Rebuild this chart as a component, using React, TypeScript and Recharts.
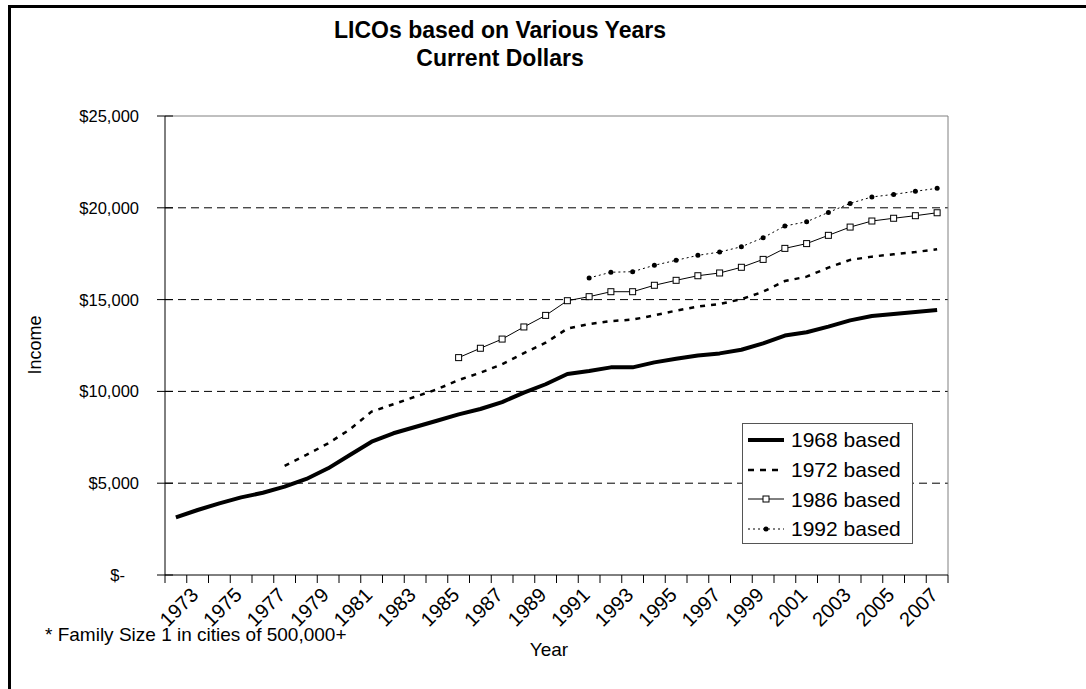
import React from "react";
import {
  LineChart,
  Line,
  XAxis,
  YAxis,
  CartesianGrid,
  ReferenceLine,
  Legend,
} from "recharts";

const FONT = '"Liberation Sans", Arial, Helvetica, sans-serif';

const YEARS = [
  1973, 1974, 1975, 1976, 1977, 1978, 1979, 1980, 1981, 1982, 1983, 1984,
  1985, 1986, 1987, 1988, 1989, 1990, 1991, 1992, 1993, 1994, 1995, 1996,
  1997, 1998, 1999, 2000, 2001, 2002, 2003, 2004, 2005, 2006, 2007, 2008,
];

const LICO_1968 = [
  3140, 3540, 3900, 4230, 4480, 4810, 5230, 5810, 6540, 7260, 7720, 8060,
  8400, 8750, 9040, 9420, 9930, 10390, 10950, 11110, 11310, 11310, 11580, 11780,
  11960, 12070, 12270, 12620, 13040, 13220, 13530, 13870, 14110, 14220, 14320, 14430,
];

const LICO_1972 = [
  null, null, null, null, null, 5950, 6540, 7170, 7930, 8900, 9300, 9710,
  10110, 10620, 11020, 11480, 12080, 12650, 13420, 13670, 13830, 13910, 14140, 14400,
  14620, 14760, 15020, 15430, 16010, 16250, 16740, 17160, 17340, 17470, 17590, 17740,
];

const LICO_1986 = [
  null, null, null, null, null, null, null, null, null, null, null, null,
  null, 11840, 12350, 12850, 13510, 14140, 14940, 15160, 15430, 15430, 15780, 16050,
  16300, 16450, 16760, 17190, 17790, 18050, 18500, 18950, 19280, 19430, 19570, 19730,
];

const LICO_1992 = [
  null, null, null, null, null, null, null, null, null, null, null, null,
  null, null, null, null, null, null, null, 16180, 16490, 16520, 16870, 17140,
  17410, 17590, 17880, 18370, 19010, 19240, 19750, 20240, 20590, 20730, 20900, 21060,
];

const YEAR_LABELS = [
  1973, 1975, 1977, 1979, 1981, 1983, 1985, 1987, 1989, 1991, 1993, 1995,
  1997, 1999, 2001, 2003, 2005, 2007,
];
const Y_TICKS = [0, 5000, 10000, 15000, 20000, 25000];
const GRID_VALUES = [5000, 10000, 15000, 20000];

const data = YEARS.map((year, i) => ({
  year,
  b1968: LICO_1968[i],
  b1972: LICO_1972[i],
  b1986: LICO_1986[i],
  b1992: LICO_1992[i],
}));

// tick marks sit between categories, labels on the category centres
const xTicks = [
  ...YEARS.map((y) => y - 0.5),
  YEARS[YEARS.length - 1] + 0.5,
  ...YEAR_LABELS,
];

const fmtMoney = (v: number) => (v === 0 ? "$-" : "$" + v.toLocaleString("en-US"));

function YearTick({ x, y, payload }: any) {
  const v = payload.value;
  if (!Number.isInteger(v)) {
    return <line x1={x} x2={x} y1={y} y2={y + 8} stroke="#000" />;
  }
  const cx = x + 3;
  const cy = y + 32;
  return (
    <text
      x={cx}
      y={cy}
      dy="0.35em"
      transform={`rotate(-45, ${cx}, ${cy})`}
      textAnchor="middle"
      fontSize={20}
      fontFamily={FONT}
      fill="#000"
    >
      {v}
    </text>
  );
}

function IncomeTick({ x, y, payload }: any) {
  const v = payload.value;
  return (
    <g>
      <line x1={x - 8} x2={x + 8} y1={y} y2={y} stroke="#000" />
      <text
        x={v === 0 ? x - 40 : x - 26}
        y={y + 6}
        textAnchor="end"
        fontSize={16.5}
        fontFamily={FONT}
        fill="#000"
      >
        {fmtMoney(v)}
      </text>
    </g>
  );
}

function SquareDot(props: any) {
  const { cx, cy, index, value } = props;
  if (value == null || cy == null) return <g key={index} />;
  return (
    <rect key={index} x={cx - 3} y={cy - 3} width={6} height={6} fill="#fff" stroke="#000" strokeWidth={1} />
  );
}

function RoundDot(props: any) {
  const { cx, cy, index, value } = props;
  if (value == null || cy == null) return <g key={index} />;
  return <circle key={index} cx={cx} cy={cy} r={2.5} fill="#000" />;
}

function LegendBox() {
  const row = (label: string, swatch: React.ReactNode) => (
    <div style={{ display: "flex", alignItems: "center", height: 29.7 }}>
      <svg width={42} height={12} style={{ marginLeft: 5 }}>
        {swatch}
      </svg>
      <span style={{ marginLeft: 1, fontSize: 21, lineHeight: "21px" }}>{label}</span>
    </div>
  );
  return (
    <div
      style={{
        width: 171,
        height: 121,
        boxSizing: "border-box",
        border: "1px solid #555",
        background: "#fff",
        fontFamily: FONT,
        color: "#000",
        paddingTop: 1,
      }}
    >
      {row("1968 based", <line x1={0} x2={36} y1={6} y2={6} stroke="#000" strokeWidth={4} />)}
      {row("1972 based", <line x1={0} x2={36} y1={6} y2={6} stroke="#000" strokeWidth={2.5} strokeDasharray="6 6" />)}
      {row(
        "1986 based",
        <g>
          <line x1={0} x2={36} y1={6} y2={6} stroke="#000" strokeWidth={1} />
          <rect x={15} y={3} width={6} height={6} fill="#fff" stroke="#000" />
        </g>
      )}
      {row(
        "1992 based",
        <g>
          <line x1={0} x2={36} y1={6} y2={6} stroke="#000" strokeWidth={1} strokeDasharray="2 3" />
          <circle cx={18} cy={6} r={2.5} fill="#000" />
        </g>
      )}
    </div>
  );
}

export default function App() {
  return (
    <div
      style={{
        position: "absolute",
        left: 0,
        top: 0,
        width: 1086,
        height: 689,
        overflow: "hidden",
        background: "#fff",
        fontFamily: FONT,
        color: "#000",
      }}
    >
      {/* chart area frame, runs off the picture on the right and bottom */}
      <div
        style={{
          position: "absolute",
          left: 8,
          top: 5,
          width: 1200,
          height: 800,
          border: "3px solid #000",
          boxSizing: "border-box",
        }}
      />

      <div style={{ position: "absolute", left: 8, top: 8, width: 1070, height: 673 }}>
        <div
          style={{
            position: "absolute",
            left: 0,
            top: 8,
            width: 984,
            textAlign: "center",
            fontWeight: "bold",
            fontSize: 23,
            lineHeight: "28px",
          }}
        >
          LICOs based on Various Years
          <br />
          Current Dollars
        </div>

        <div style={{ position: "absolute", left: 0, top: 0 }}>
          <LineChart
            width={1070}
            height={673}
            data={data}
            margin={{ top: 108, right: 130, bottom: 0, left: 0 }}
          >
            <CartesianGrid
              vertical={false}
              horizontalValues={GRID_VALUES}
              stroke="#000"
              strokeDasharray="8 5"
            />
            <ReferenceLine y={25000} stroke="#808080" />
            <ReferenceLine x={2008.5} stroke="#808080" />
            <XAxis
              dataKey="year"
              type="number"
              domain={[1972.5, 2008.5]}
              ticks={xTicks}
              interval={0}
              tickLine={false}
              tickSize={0}
              tickMargin={0}
              tick={<YearTick />}
              axisLine={{ stroke: "#000" }}
              height={106}
              allowDataOverflow
            />
            <YAxis
              type="number"
              domain={[0, 25000]}
              ticks={Y_TICKS}
              interval={0}
              tickLine={false}
              tickSize={0}
              tickMargin={0}
              tick={<IncomeTick />}
              axisLine={{ stroke: "#000" }}
              width={157}
            />
            <Legend
              layout="vertical"
              align="center"
              verticalAlign="middle"
              content={() => <LegendBox />}
              wrapperStyle={{ left: 734, top: 415, width: 171, height: 121 }}
            />
            <Line
              dataKey="b1968"
              name="1968 based"
              stroke="#000"
              strokeWidth={4}
              strokeLinejoin="round"
              dot={false}
              activeDot={false}
              isAnimationActive={false}
            />
            <Line
              dataKey="b1972"
              name="1972 based"
              stroke="#000"
              strokeWidth={2.5}
              strokeDasharray="5 6"
              dot={false}
              activeDot={false}
              isAnimationActive={false}
            />
            <Line
              dataKey="b1986"
              name="1986 based"
              stroke="#000"
              strokeWidth={1}
              dot={SquareDot}
              activeDot={false}
              isAnimationActive={false}
            />
            <Line
              dataKey="b1992"
              name="1992 based"
              stroke="#000"
              strokeWidth={1}
              strokeDasharray="2 3"
              dot={RoundDot}
              activeDot={false}
              isAnimationActive={false}
            />
          </LineChart>
        </div>

        <div
          style={{
            position: "absolute",
            left: 27,
            top: 337,
            transform: "translate(-50%, -50%) rotate(-90deg)",
            fontSize: 18,
            whiteSpace: "nowrap",
          }}
        >
          Income
        </div>

        <div
          style={{
            position: "absolute",
            left: 541,
            top: 642,
            transform: "translate(-50%, -50%)",
            fontSize: 19,
          }}
        >
          Year
        </div>

        <div
          style={{
            position: "absolute",
            left: 37,
            top: 627,
            transform: "translateY(-50%)",
            fontSize: 19,
            whiteSpace: "nowrap",
          }}
        >
          * Family Size 1 in cities of 500,000+
        </div>
      </div>
    </div>
  );
}
